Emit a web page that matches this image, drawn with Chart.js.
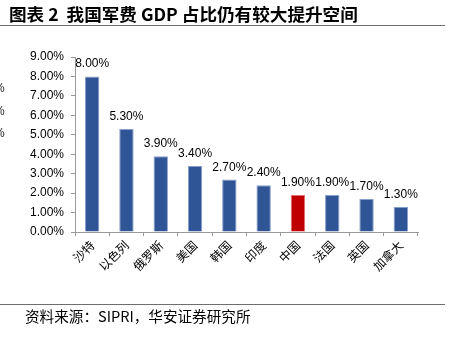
<!DOCTYPE html>
<html><head><meta charset="utf-8">
<script src="https://cdn.jsdelivr.net/npm/chart.js@4"></script>
<style>html,body{margin:0;padding:0;background:#fff;}#wrap{position:relative;width:450px;height:337px;}</style>
</head><body><div id="wrap"><canvas id="c" width="450" height="337"></canvas></div>
<script>
const categories = ['沙特','以色列','俄罗斯','美国','韩国','印度','中国','法国','英国','加拿大'];
const values = [8.0, 5.3, 3.9, 3.4, 2.7, 2.4, 1.9, 1.9, 1.7, 1.3];
const highlight = '中国';
const yTicks = [0,1,2,3,4,5,6,7,8,9];
const titleText = '图表 2  我国军费 GDP 占比仍有较大提升空间';
const sourceText = '资料来源：SIPRI，华安证券研究所';

const CJK = '"Noto Sans CJK SC", "Liberation Sans", sans-serif';
const colors = categories.map(c => c === highlight ? '#C00000' : '#2F5597');
const borders = categories.map(c => c === highlight ? '#E07070' : '#8A9FCB');

const deco = {
  id: 'deco',
  beforeDraw(chart) {
    const ctx = chart.ctx;
    ctx.save();
    ctx.fillStyle = '#fff';
    ctx.fillRect(0, 0, chart.width, chart.height);
    ctx.fillStyle = '#000';
    ctx.font = 'bold 17.6px ' + CJK;
    ctx.textBaseline = 'alphabetic';
    ctx.textAlign = 'left';
    ctx.fillText(titleText, 9, 21);
    ctx.strokeStyle = '#6e6e6e';
    ctx.lineWidth = 1;
    ctx.beginPath(); ctx.moveTo(0, 25.5); ctx.lineTo(445, 25.5); ctx.stroke();
    ctx.beginPath(); ctx.moveTo(0, 304.5); ctx.lineTo(445, 304.5); ctx.stroke();
    ctx.font = '14.6px ' + CJK;
    ctx.fillText(sourceText, 25, 322);
    ctx.font = '12px "Liberation Sans", sans-serif';
    ctx.fillStyle = '#222';
    ['%','%','%'].forEach((t, i) => ctx.fillText(t, -6, 92 + i * 22.5));
    ctx.restore();
  },
  afterDatasetsDraw(chart) {
    const ctx = chart.ctx;
    const meta = chart.getDatasetMeta(0);
    ctx.save();
    ctx.fillStyle = '#000';
    ctx.font = '12px "Liberation Sans", sans-serif';
    ctx.textAlign = 'center';
    ctx.textBaseline = 'alphabetic';
    meta.data.forEach((bar, i) => {
      ctx.fillText(values[i].toFixed(2) + '%', bar.x, bar.y - 9);
    });
    ctx.restore();
  }
};

new Chart(document.getElementById('c'), {
  type: 'bar',
  data: {
    labels: categories,
    datasets: [{
      data: values,
      backgroundColor: colors,
      borderColor: borders,
      borderWidth: 1,
      barPercentage: 0.42,
      categoryPercentage: 1.0
    }]
  },
  options: {
    responsive: false,
    animation: false,
    devicePixelRatio: 1,
    layout: { padding: { left: 0, top: 57, right: 32, bottom: 45 } },
    plugins: { legend: { display: false }, tooltip: { enabled: false } },
    scales: {
      x: {
        afterFit(s) { s.height = 60; },
        grid: { display: true, drawOnChartArea: false, drawTicks: true, tickLength: 4, color: '#999', offset: true },
        border: { display: true, color: '#999', width: 1 },
        ticks: { color: '#000', font: { size: 12, family: CJK }, minRotation: 45, maxRotation: 45, padding: 2, autoSkip: false }
      },
      y: {
        min: 0, max: 9,
        afterFit(s) { s.width = 75; },
        afterBuildTicks(s) { s.ticks = yTicks.map(v => ({ value: v })); },
        grid: { display: true, drawOnChartArea: false, drawTicks: true, tickLength: 4, color: '#999' },
        border: { display: true, color: '#999', width: 1 },
        ticks: { color: '#000', font: { size: 12, family: '"Liberation Sans", sans-serif' }, padding: 7,
          callback: v => v.toFixed(2) + '%' }
      }
    }
  },
  plugins: [deco]
});
</script></body></html>
